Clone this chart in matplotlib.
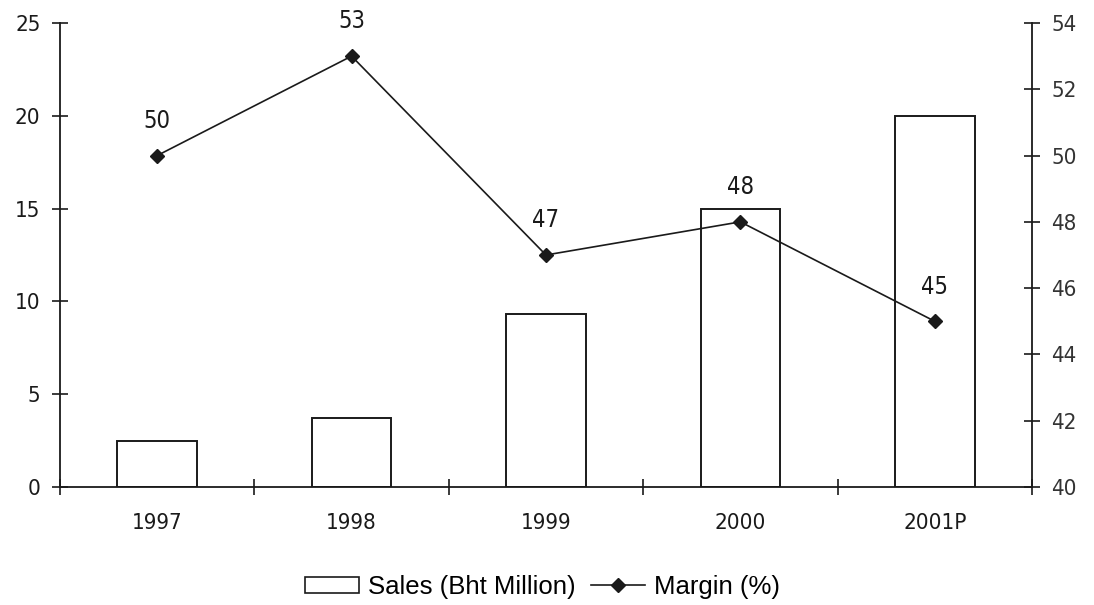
import matplotlib
matplotlib.use("Agg")
import matplotlib.pyplot as plt
from matplotlib.lines import Line2D
from matplotlib.patches import Patch
from matplotlib.font_manager import FontProperties

years = ["1997", "1998", "1999", "2000", "2001P"]
sales = [2.5, 3.7, 9.3, 15.0, 20.0]      # Bht Million
margin = [50, 53, 47, 48, 45]            # %

left_ticks = [0, 5, 10, 15, 20, 25]
right_ticks = [40, 42, 44, 46, 48, 50, 52, 54]

ink = "#1a1a1a"
tick_fp = FontProperties(family="DejaVu Sans", stretch="condensed", size=16)
note_fp = FontProperties(family="DejaVu Sans", stretch="condensed", size=17)
legend_fp = FontProperties(family="Liberation Sans", size=18.5)

fig = plt.figure(figsize=(10.94, 6.05), dpi=100)
ax = fig.add_axes([0.0548, 0.195, 0.8885, 0.767])
ax2 = ax.twinx()

x = list(range(len(years)))
ax.bar(x, sales, width=0.41, facecolor="white", edgecolor=ink, linewidth=1.4, zorder=2)

ax2.plot(x, margin, color=ink, linewidth=1.2, marker="D", markersize=7,
         markerfacecolor=ink, markeredgecolor=ink, zorder=3)
for xi, m in zip(x, margin):
    ax2.annotate(str(m), (xi, m), xytext=(0, 25), textcoords="offset points",
                 ha="center", va="center", fontproperties=note_fp, color=ink)

ax.set_xlim(-0.5, len(years) - 0.5)
ax.set_ylim(0, 25)
ax2.set_ylim(40, 54)

ax.set_yticks(left_ticks)
ax2.set_yticks(right_ticks)
ax.set_xticks(x)
ax.set_xticklabels(years)
ax.set_xticks([i - 0.5 for i in range(len(years) + 1)], minor=True)

for a in (ax, ax2):
    for s in a.spines.values():
        s.set_visible(False)
ax.spines["left"].set_visible(True)
ax.spines["bottom"].set_visible(True)
ax2.spines["right"].set_visible(True)
for s in (ax.spines["left"], ax.spines["bottom"], ax2.spines["right"]):
    s.set_color(ink)
    s.set_linewidth(1.3)

ax.tick_params(axis="y", direction="inout", length=12, width=1.2, color=ink,
               pad=8, labelcolor=ink)
ax2.tick_params(axis="y", direction="inout", length=12, width=1.2, color=ink,
                pad=8, labelcolor="#333333")
ax.tick_params(axis="x", which="major", length=0, pad=19, labelcolor=ink)
ax.tick_params(axis="x", which="minor", direction="inout", length=12, width=1.2, color=ink)

for lab in ax.get_yticklabels() + ax2.get_yticklabels() + ax.get_xticklabels():
    lab.set_fontproperties(tick_fp)

handles = [
    Patch(facecolor="white", edgecolor=ink, linewidth=1.2, label="Sales (Bht Million)"),
    Line2D([0], [0], color=ink, linewidth=1.2, marker="D", markersize=7,
           markerfacecolor=ink, label="Margin (%)"),
]
fig.legend(handles=handles, loc="center", bbox_to_anchor=(0.496, 0.03), ncol=2,
           frameon=False, handlelength=2.1, handleheight=0.6, handletextpad=0.35,
           columnspacing=0.6, prop=legend_fp)

fig.savefig("out.png", dpi=100, facecolor="white")
